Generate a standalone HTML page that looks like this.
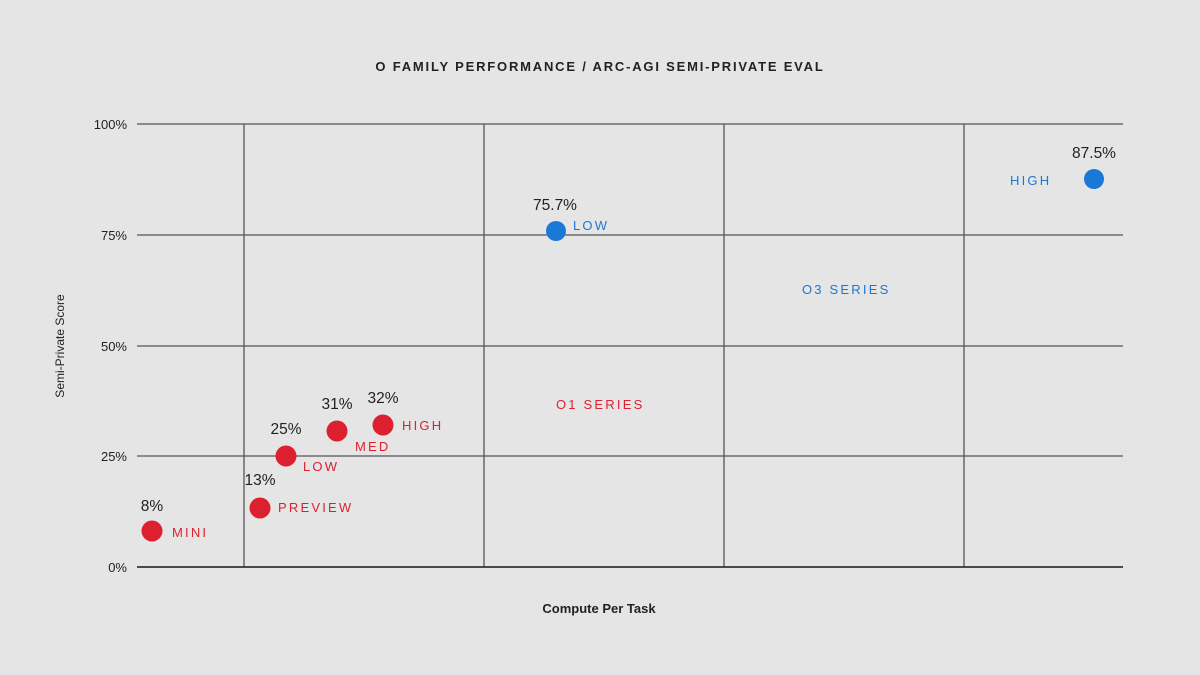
<!DOCTYPE html>
<html><head><meta charset="utf-8"><style>
html,body{margin:0;padding:0;background:#e5e5e5;}
svg{display:block;}
text{font-family:"Liberation Sans",sans-serif;}
</style></head><body>
<svg width="1200" height="675" viewBox="0 0 1200 675">
<rect width="1200" height="675" fill="#e5e5e5"/>
<text x="600" y="71" text-anchor="middle" font-size="13" font-weight="bold" letter-spacing="1.8" fill="#222">O FAMILY PERFORMANCE / ARC-AGI SEMI-PRIVATE EVAL</text>
<g stroke="#555" stroke-width="1.3">
<line x1="137" y1="124" x2="1123" y2="124"/>
<line x1="137" y1="235" x2="1123" y2="235"/>
<line x1="137" y1="346" x2="1123" y2="346"/>
<line x1="137" y1="456" x2="1123" y2="456"/>
<line x1="244" y1="124" x2="244" y2="567"/>
<line x1="484" y1="124" x2="484" y2="567"/>
<line x1="724" y1="124" x2="724" y2="567"/>
<line x1="964" y1="124" x2="964" y2="567"/>
</g>
<line x1="137" y1="567" x2="1123" y2="567" stroke="#333" stroke-width="1.8"/>
<g font-size="13" fill="#222" text-anchor="end">
<text x="127" y="129">100%</text>
<text x="127" y="240">75%</text>
<text x="127" y="351">50%</text>
<text x="127" y="461">25%</text>
<text x="127" y="572">0%</text>
</g>
<text transform="translate(64,346) rotate(-90)" text-anchor="middle" font-size="12" fill="#222">Semi-Private Score</text>
<text x="599" y="613" text-anchor="middle" font-size="13" font-weight="bold" fill="#222">Compute Per Task</text>
<g fill="#dd2030">
<circle cx="152" cy="531" r="10.5"/>
<circle cx="260" cy="508" r="10.5"/>
<circle cx="286" cy="456" r="10.5"/>
<circle cx="337" cy="431" r="10.5"/>
<circle cx="383" cy="425" r="10.5"/>
</g>
<g fill="#1a78d6">
<circle cx="556" cy="231" r="10"/>
<circle cx="1094" cy="179" r="10"/>
</g>
<g font-size="15.5" fill="#222" text-anchor="middle">
<text x="152" y="511">8%</text>
<text x="260" y="485">13%</text>
<text x="286" y="434">25%</text>
<text x="337" y="409">31%</text>
<text x="383" y="403">32%</text>
<text x="555" y="210">75.7%</text>
<text x="1094" y="158">87.5%</text>
</g>
<g font-size="13" fill="#dd2030" letter-spacing="2.2">
<text x="172" y="537">MINI</text>
<text x="278" y="512">PREVIEW</text>
<text x="303" y="471">LOW</text>
<text x="355" y="451">MED</text>
<text x="402" y="430">HIGH</text>
<text x="556" y="409">O1 SERIES</text>
</g>
<g font-size="13" fill="#1a78d6" letter-spacing="2.2">
<text x="573" y="230">LOW</text>
<text x="1010" y="185">HIGH</text>
<text x="802" y="294">O3 SERIES</text>
</g>
</svg>
</body></html>
